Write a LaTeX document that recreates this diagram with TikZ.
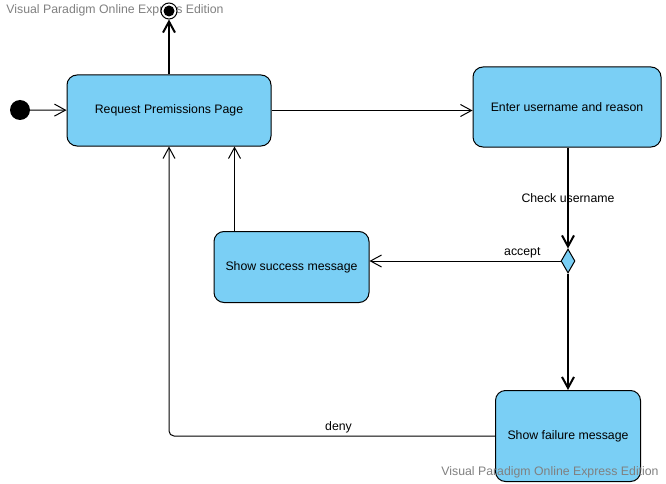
\documentclass[tikz,border=0pt]{standalone}
\usepackage{fontspec}
\setmainfont{Liberation Sans}
\usetikzlibrary{arrows.meta,shapes.geometric}

\definecolor{statefill}{RGB}{122,207,245}
\definecolor{watermark}{RGB}{128,128,128}

\begin{document}
\begin{tikzpicture}[x=1pt, y=-1pt]
    \tikzstyle{state box} = [rectangle,rounded corners=10pt,draw=black,fill=statefill,line width=1pt,font=\fontsize{12.3}{14}\selectfont]
    \tikzstyle{decision} = [diamond,draw=black,fill=statefill,line width=1pt,inner sep=0pt,minimum width=14pt,minimum height=24pt]
    \tikzstyle{watermark text} = [text=watermark,inner sep=0pt,font=\fontsize{12.3}{14}\selectfont]
    \tikzstyle{edge label} = [inner sep=2pt,font=\fontsize{12.3}{14}\selectfont]
    \tikzstyle{flow edge} = [draw=black, line width=1pt, ->, >={Straight Barb[length=11pt,width=12pt]}]
    \tikzstyle{flow edge thick} = [flow edge, line width=2pt]
\useasboundingbox (0,0) rectangle (666,484);
\node[watermark text] (mark top) at (115,10) {Visual Paradigm Online Express Edition};
\node[circle,fill=black,minimum size=20pt,inner sep=0pt] (init) at (20,110) {};
\node[circle,draw=black,fill=white,line width=1pt,minimum size=16pt,inner sep=0pt] (final) at (169,11) {};
\fill[black] (final.center) circle[radius=5.5pt];
\node[state box, minimum width=204pt, minimum height=71pt] (request) at (169,110.5) {Request Premissions Page};
\node[state box, minimum width=188pt, minimum height=80pt] (enter) at (567,107) {Enter username and reason};
\node[decision] (check) at (568,261) {};
\node[state box, minimum width=155pt, minimum height=71pt] (success) at (291.5,267) {Show success message};
\node[state box, minimum width=145pt, minimum height=91pt] (failure) at (568,436) {Show failure message};
\draw[flow edge] (init) to (request);
\draw[flow edge thick] (request) to (final);
\draw[flow edge] (request.east) to (request.east -| enter.west);
\draw[flow edge thick] (enter.south -| check) to node[edge label, midway] {Check username} (check);
\draw[flow edge] (check.west) to node[edge label, pos=0.2, above] {accept} (check.west -| success.east);
\draw[flow edge thick] (check) to (failure);
\draw[flow edge] ([xshift=21pt]success.north west) to ([xshift=21pt]success.north west |- request.south);
\draw[flow edge, rounded corners=5pt] (failure.west) -| node[edge label, pos=0.24, above] {deny} (request.south);
\node[watermark text] (mark bottom) at (550,472.5) {Visual Paradigm Online Express Edition};
\end{tikzpicture}
\end{document}
